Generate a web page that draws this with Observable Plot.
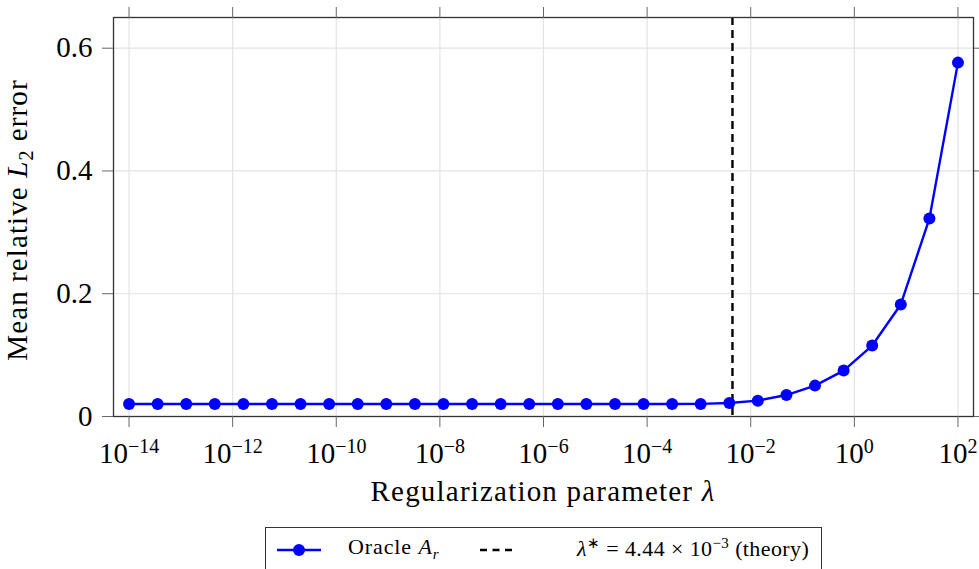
<!DOCTYPE html>
<html><head><meta charset="utf-8">
<script src="https://cdn.jsdelivr.net/npm/d3@7"></script>
<script src="https://cdn.jsdelivr.net/npm/@observablehq/plot@0.6"></script>
<style>
body{margin:0;background:#fff;font-family:"Liberation Serif",serif;}
#wrap{position:relative;width:979px;height:569px;overflow:hidden;background:#fff;}
#legend{position:absolute;left:265px;top:527px;width:557px;height:52px;border:1.3px solid #333;box-sizing:border-box;font-size:22px;letter-spacing:0.9px;color:#000;}
#legend .it{position:absolute;top:6px;white-space:nowrap;}
#legend svg{position:absolute;}
</style></head><body><div id="wrap"></div>
<script>
// ---- data ----
const lambdas = [1e-14, 3.56e-14, 1.27e-13, 4.52e-13, 1.61e-12, 5.74e-12, 2.04e-11, 7.28e-11,
  2.59e-10, 9.24e-10, 3.29e-9, 1.17e-8, 4.18e-8, 1.49e-7, 5.30e-7, 1.89e-6, 6.72e-6, 2.40e-5,
  8.53e-5, 3.04e-4, 1.08e-3, 3.86e-3, 1.37e-2, 4.89e-2, 0.174, 0.621, 2.21, 7.88, 28.1, 100];
const errors = [0.0204, 0.0204, 0.0204, 0.0204, 0.0204, 0.0204, 0.0204, 0.0204,
  0.0204, 0.0204, 0.0204, 0.0204, 0.0204, 0.0204, 0.0204, 0.0204, 0.0204, 0.0204,
  0.0204, 0.0204, 0.0205, 0.0220, 0.0258, 0.0350, 0.0503, 0.0748, 0.1156, 0.1825, 0.3224, 0.5765];
const lambdaStar = [4.44e-3];
const xTicks = [1e-14, 1e-12, 1e-10, 1e-8, 1e-6, 1e-4, 1e-2, 1e0, 1e2];
const yTicks = [0, 0.2, 0.4, 0.6];
const xDomain = [Math.pow(10, -14.3), Math.pow(10, 2.3)];
const yDomain = [0, 0.65];
const xTitle = "Regularization parameter ";
const yTitle = ["Mean relative ", "L", "2", " error"];
const seriesName = ["Oracle ", "A", "r"];
const refName = "4.44 × 10";

const data = lambdas.map((l, i) => ({lambda: l, err: errors[i]}));

const W = 979, H = 515;
const svg = Plot.plot({
  width: W, height: H,
  marginLeft: 113, marginRight: 6, marginTop: 17, marginBottom: 99,
  style: {fontFamily: "Liberation Serif", fontSize: "29px", background: "white", color: "black", overflow: "visible"},
  x: {type: "log", domain: xDomain, axis: null},
  y: {domain: yDomain, axis: null},
  marks: [
    Plot.gridX(xTicks, {stroke: "#e3e3e3", strokeOpacity: 1, strokeWidth: 1.2}),
    Plot.gridY(yTicks, {stroke: "#e3e3e3", strokeOpacity: 1, strokeWidth: 1.2}),
    Plot.ruleX(lambdaStar, {stroke: "black", strokeWidth: 2.4, strokeDasharray: "8,5"}),
    Plot.line(data, {x: "lambda", y: "err", stroke: "#0000ff", strokeWidth: 2.4}),
    Plot.dot(data, {x: "lambda", y: "err", fill: "#0000ff", r: 6}),
    Plot.frame({stroke: "#333", strokeWidth: 1.3}),
    Plot.axisX({anchor: "bottom", ticks: xTicks, tickSize: 11, tickPadding: 15, stroke: "#666",
      fill: "black", label: null, tickFormat: d => String(Math.round(Math.log10(d)))}),
    Plot.axisX({anchor: "top", ticks: xTicks, tickSize: 11, stroke: "#666", label: null, tickFormat: () => ""}),
    Plot.axisY({anchor: "left", ticks: yTicks, tickSize: 11, tickPadding: 10, stroke: "#666",
      fill: "black", label: null, tickFormat: d => d === 0 ? "0" : d.toFixed(1)}),
    Plot.axisY({anchor: "right", ticks: yTicks, tickSize: 11, stroke: "#666", label: null, tickFormat: () => ""})
  ]
});
document.getElementById("wrap").appendChild(svg);

// superscript exponents on x tick labels
d3.select(svg).selectAll('g[aria-label="x-axis tick label"] text').each(function() {
  const t = d3.select(this);
  const s = t.text();
  if (!s) return;
  const e = Number(s);
  t.text("10");
  t.append("tspan").attr("dy", "-10").attr("font-size", "20px")
    .text(e < 0 ? "\u2212" + Math.abs(e) : String(e));
});

// axis titles
const g = d3.select(svg).append("g").attr("font-family", "Liberation Serif").attr("font-size", "29px")
  .attr("fill", "black");
const xt = g.append("text").attr("x", (113 + (W - 6)) / 2).attr("y", 501).attr("text-anchor", "middle")
  .attr("letter-spacing", "1.2px");
xt.append("tspan").text(xTitle);
xt.append("tspan").attr("font-style", "italic").text("\u03bb");
const yt = g.append("text").attr("transform", `translate(27,220) rotate(-90)`).attr("text-anchor", "middle")
  .attr("letter-spacing", "1.1px");
yt.append("tspan").text(yTitle[0]);
yt.append("tspan").attr("font-style", "italic").text(yTitle[1]);
yt.append("tspan").attr("font-size", "20px").attr("dy", "6").text(yTitle[2]);
yt.append("tspan").attr("dy", "-6").text(yTitle[3]);

// legend
const leg = document.createElement("div");
leg.id = "legend";
leg.innerHTML = `
<svg style="left:10px;top:10px" width="46" height="24"><line x1="1" y1="12" x2="45" y2="12" stroke="#0000ff" stroke-width="2.4"/><circle cx="23" cy="12" r="6" fill="#0000ff"/></svg>
<span class="it" style="left:82px">${seriesName[0]}<i>${seriesName[1]}</i><sub style="font-size:15px;font-style:italic">${seriesName[2]}</sub></span>
<svg style="left:214px;top:10px" width="34" height="24"><line x1="0" y1="12" x2="34" y2="12" stroke="black" stroke-width="2.4" stroke-dasharray="7,5.5"/></svg>
<span class="it" style="left:311px;letter-spacing:0.4px"><i>λ</i><sup style="font-size:15px">∗</sup> = ${refName}<sup style="font-size:15px">−3</sup> (theory)</span>`;
document.getElementById("wrap").appendChild(leg);
</script></body></html>
